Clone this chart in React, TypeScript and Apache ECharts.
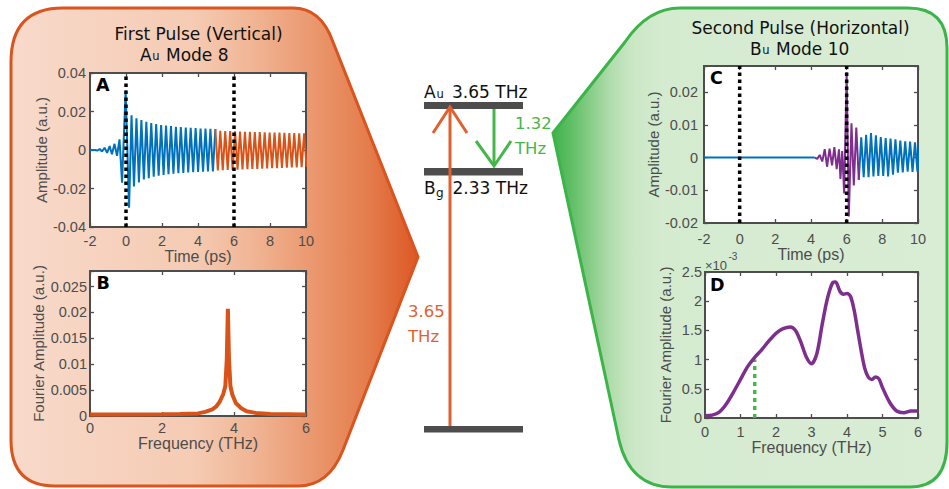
import React, { useEffect, useRef } from "react";
import * as echarts from "echarts";

const WIDTH = 949;
const HEIGHT = 489;

const AXIS_COLOR = "#4d4d4d";
const TITLE_FONT = "'DejaVu Sans', 'Open Sans', sans-serif";
const AXIS_FONT = "'Liberation Sans', Arial, sans-serif";
const BLUE = "#0072bd";
const ORANGE = "#d95319";
const PURPLE = "#7e2f8e";
const GREEN = "#45b649";
const ARROW_ORANGE = "#e0612f";
const LEVEL_GREY = "#4d4d4d";

// A_u phonon frequency; spacing of the ringing extrema in the time traces
const auFreqTHz = 3.65;
const halfPeriod = 1 / (2 * auFreqTHz);

// ---------- Panel A: first pulse, time trace ----------
const aLeadIn: number[][] = [
  [-2, 0], [-1.72, 0], [-1.6, -0.0003], [-1.46, 0.0005], [-1.33, -0.0008], [-1.19, 0.0012],
  [-1.05, -0.0015], [-0.91, 0.002], [-0.78, -0.0022], [-0.64, 0.0032], [-0.5, -0.003],
  [-0.36, 0.0055], [-0.22, -0.017], [-0.02, 0.031],
];
const aRingStart = 0.17;
const aRingBlue = [
  -0.03, 0.018, -0.019, 0.0165, -0.0168, 0.0155, -0.0153, 0.0146, -0.0146, 0.014,
  -0.0139, 0.0135, -0.0134, 0.013, -0.0129, 0.0127, -0.0126, 0.0124, -0.0123, 0.0121,
  -0.0121, 0.0119, -0.0119, 0.0117, -0.0117, 0.0115, -0.0115, 0.0114, -0.0114, 0.0112,
  -0.0113, 0.0111, -0.0112, 0.011, -0.0111, 0.0109,
];
const aRingOrange = [
  -0.0106, 0.01, -0.0105, 0.0099, -0.0104, 0.0098, -0.0103, 0.0097, -0.0102, 0.0096,
  -0.0101, 0.0095, -0.01, 0.0094, -0.0099, 0.0093, -0.0098, 0.0093, -0.0097, 0.0092,
  -0.0096, 0.0091, -0.0095, 0.009, -0.0094, 0.009, -0.0093, 0.0089, -0.0092, 0.0088,
  -0.0091, 0.0088, -0.009, 0.0087, -0.0089, 0.0086, -0.0088,
];
const pulseTimes = [0, 6];

// ---------- Panel B: Fourier amplitude of the A_u ringing ----------
const bFreq = [0, 1, 2, 2.5, 3, 3.2, 3.4, 3.5, 3.6, 3.7, 3.76, 3.8, 3.83, 3.86, 3.9, 3.95, 4.05, 4.2, 4.35, 4.6, 5, 6];
const bAmp = [
  0.0003, 0.0003, 0.00035, 0.0004, 0.0005, 0.0008, 0.0013, 0.0018, 0.0027, 0.0042, 0.0058,
  0.011, 0.0207, 0.011, 0.0058, 0.0042, 0.0025, 0.0015, 0.0009, 0.0006, 0.0004, 0.0003,
];

// ---------- Panel C: second pulse, time trace ----------
const cFlat: number[][] = [[-2, 0], [4.21, 0]];
const cPulse: number[][] = [
  [4.21, 0], [4.35, -0.0004], [4.49, 0.0008], [4.63, -0.0012], [4.77, 0.0026], [4.9, -0.0028],
  [5.04, 0.0027], [5.18, -0.0024], [5.31, 0.0032], [5.44, -0.0035], [5.57, 0.0025],
  [5.65, -0.0065], [5.75, 0.002], [5.86, -0.011], [6.0, 0.026], [6.12, -0.018],
  [6.27, 0.0105], [6.4, -0.0085], [6.54, 0.0092], [6.68, -0.0068],
];
const cRingBlue = [
  0.0062, -0.006, 0.007, -0.006, 0.0075, -0.0058, 0.0068, -0.0056, 0.0063, -0.0056,
  0.006, -0.0058, 0.0058, -0.0052, 0.0056, -0.0046, 0.0052, -0.0045, 0.005, -0.0043,
  0.0049, -0.0044, 0.0047, -0.0043, 0.0046,
];

// ---------- Panel D: Fourier amplitude of the second-pulse response (x1e-3) ----------
const dFreq = [
  0, 0.2, 0.4, 0.6, 0.8, 1.0, 1.2, 1.4, 1.6, 1.8, 2.0, 2.2, 2.4, 2.55, 2.7, 2.85, 3.0, 3.15,
  3.3, 3.45, 3.6, 3.68, 3.8, 3.9, 4.0, 4.1, 4.2, 4.3, 4.4, 4.5, 4.6, 4.7, 4.8, 4.9, 5.0,
  5.2, 5.4, 5.6, 5.8, 6.0,
];
const dAmp = [
  0.04, 0.05, 0.1, 0.24, 0.44, 0.66, 0.88, 1.04, 1.17, 1.32, 1.45, 1.53, 1.56, 1.5, 1.3,
  1.05, 0.93, 1.1, 1.6, 2.05, 2.32, 2.33, 2.17, 2.12, 2.13, 2.08, 1.85, 1.5, 1.15, 0.85,
  0.7, 0.66, 0.7, 0.67, 0.52, 0.27, 0.12, 0.09, 0.12, 0.12,
];
const dMarker = { freq: 1.4, amp: 1.0 };

// ---------- Titles and energy level diagram ----------
const leftTitle = { line1: "First Pulse (Vertical)", sym: "A", sub: "u", rest: "Mode 8" };
const rightTitle = { line1: "Second Pulse (Horizontal)", sym: "B", sub: "u", rest: "Mode 10" };
const levelUpper = { sym: "A", sub: "u", label: "3.65 THz" };
const levelMiddle = { sym: "B", sub: "g", label: "2.33 THz" };
const pumpLabel = ["3.65", "THz"];
const downLabel = ["1.32", "THz"];

const ringPoints = (t0: number, vals: number[], offset: number) =>
  vals.map((v, i) => [t0 + (i + offset) * halfPeriod, v]);

const tickText = (step: number) => (v: number) => {
  const k = v / step;
  if (Math.abs(k - Math.round(k)) > 1e-6) return "";
  return String(+v.toFixed(4));
};

type AxisSpec = {
  grid: number;
  x: [number, number, number];
  y: [number, number, number];
  xName: string;
  yName: string;
  xGap: number;
  yGap: number;
  xMargin: number;
  yMargin: number;
};

function buildAxes(s: AxisSpec) {
  const tick = { inside: true, length: 4, lineStyle: { color: AXIS_COLOR, width: 1.3 } };
  const label = { color: AXIS_COLOR, fontSize: 14.5, fontFamily: AXIS_FONT };
  const xBottom = {
    type: "value", gridIndex: s.grid, position: "bottom",
    min: s.x[0], max: s.x[1], interval: s.x[2],
    axisLine: { show: false, onZero: false }, axisTick: tick, splitLine: { show: false },
    axisLabel: { ...label, margin: s.xMargin, formatter: tickText(s.x[2]) },
    name: s.xName, nameLocation: "middle", nameGap: s.xGap,
    nameTextStyle: { color: AXIS_COLOR, fontSize: 16, fontFamily: AXIS_FONT },
  };
  const xTop = {
    type: "value", gridIndex: s.grid, position: "top",
    min: s.x[0], max: s.x[1], interval: s.x[2],
    axisLine: { show: false, onZero: false }, axisTick: tick, splitLine: { show: false },
    axisLabel: { show: false },
  };
  const yLeft = {
    type: "value", gridIndex: s.grid, position: "left",
    min: s.y[0], max: s.y[1], interval: s.y[2],
    axisLine: { show: false, onZero: false }, axisTick: tick, splitLine: { show: false },
    axisLabel: { ...label, margin: s.yMargin, formatter: tickText(s.y[2]) },
    name: s.yName, nameLocation: "middle", nameGap: s.yGap, nameRotate: 90,
    nameTextStyle: { color: AXIS_COLOR, fontSize: 15, fontFamily: AXIS_FONT },
  };
  const yRight = {
    type: "value", gridIndex: s.grid, position: "right",
    min: s.y[0], max: s.y[1], interval: s.y[2],
    axisLine: { show: false, onZero: false }, axisTick: tick, splitLine: { show: false },
    axisLabel: { show: false },
  };
  return { x: [xBottom, xTop], y: [yLeft, yRight] };
}

const leftPanelPath =
  "M 11 62 Q 11 8 63 8 L 293 8 Q 321 8 333 42 L 418 257 L 343 450 Q 329 486 298 486 L 55 486 Q 11 486 11 440 Z";
const rightPanelPath =
  "M 680 8 L 908 8 Q 947 8 947 48 L 947 442 Q 947 487 910 487 L 672 487 Q 630 487 619 440 L 553 133 L 625 42 Q 648 8 680 8 Z";

// grid g uses xAxis 2g (bottom) and yAxis 2g (left)
function line(g: number, series: number[][], color: string, width: number, extra: any = {}) {
  return {
    type: "line", xAxisIndex: 2 * g, yAxisIndex: 2 * g, data: series, showSymbol: false, symbol: "none",
    silent: true, animation: false, lineStyle: { color, width, ...(extra.lineStyle || {}) },
    smooth: extra.smooth ?? false, clip: true, z: extra.z ?? 2,
  };
}

function text(x: number, y: number, str: string, size: number, color: string, opts: any = {}) {
  return {
    type: "text", x, y, z: 20,
    style: {
      text: str, fontSize: size, lineHeight: opts.lineHeight ?? size, fontFamily: opts.font ?? TITLE_FONT,
      fontWeight: opts.weight ?? "normal", fill: color, align: opts.align ?? "left", verticalAlign: "middle",
    },
  };
}

// two-line panel title; the second line carries a small "u" after the symmetry letter
function title(cx: number, y1: number, y2: number, x2: number, t: typeof leftTitle) {
  const size = 17;
  const sub = 11.5;
  return [
    text(cx, y1, t.line1, size, "#111", { align: "center" }),
    text(x2, y2, t.sym, size, "#111"),
    text(x2 + 12.3, y2 + 0.346 * (size - sub), t.sub, sub, "#111"),
    text(x2 + 26, y2, t.rest, size, "#111"),
  ];
}

export default function App() {
  const ref = useRef<HTMLDivElement>(null);

  useEffect(() => {
    if (!ref.current) return;
    echarts.graphic.registerShape("leftPanel", echarts.graphic.extendPath(leftPanelPath, {}));
    echarts.graphic.registerShape("rightPanel", echarts.graphic.extendPath(rightPanelPath, {}));
    const chart = echarts.init(ref.current, null, { renderer: "svg", width: WIDTH, height: HEIGHT });

    const axA = buildAxes({ grid: 0, x: [-2, 10, 2], y: [-0.04, 0.04, 0.02], xName: "Time (ps)", yName: "Amplitude (a.u.)", xGap: 20, yGap: 35, xMargin: 6, yMargin: 4 });
    const axB = buildAxes({ grid: 1, x: [0, 6, 2], y: [0, 0.028, 0.005], xName: "Frequency (THz)", yName: "Fourier Amplitude (a.u.)", xGap: 19, yGap: 44, xMargin: 4, yMargin: 3 });
    const axC = buildAxes({ grid: 2, x: [-2, 10, 2], y: [-0.02, 0.028, 0.01], xName: "Time (ps)", yName: "Amplitude (a.u.)", xGap: 22, yGap: 39, xMargin: 8, yMargin: 6 });
    const axD = buildAxes({ grid: 3, x: [0, 6, 1], y: [0, 2.5, 0.5], xName: "Frequency (THz)", yName: "Fourier Amplitude (a.u.)", xGap: 18, yGap: 32, xMargin: 6, yMargin: 3 });

    const aBlue = [...aLeadIn, ...ringPoints(aRingStart, aRingBlue, 0)];
    const aOrange = [aBlue[aBlue.length - 1], ...ringPoints(aRingStart, aRingOrange, aRingBlue.length)];
    const cStart = cPulse[cPulse.length - 1];
    const cBlue = [cStart, ...ringPoints(cStart[0], cRingBlue, 1)];
    const bData = bFreq.map((f, i) => [f, bAmp[i]]);
    const dData = dFreq.map((f, i) => [f, dAmp[i]]);

    const dotted = { lineStyle: { type: [3.5, 3.5] }, z: 5 };
    const gridBase = { show: true, backgroundColor: "#ffffff", borderColor: AXIS_COLOR, borderWidth: 2 };

    const series: any[] = [
      line(0, aBlue, BLUE, 2),
      line(0, aOrange, ORANGE, 2),
      ...pulseTimes.map((t) => line(0, [[t, -0.04], [t, 0.04]], "#000", 3.5, dotted)),
      line(1, bData, ORANGE, 4),
      line(2, cFlat, BLUE, 2),
      line(2, cBlue, BLUE, 2),
      line(2, cPulse, PURPLE, 2),
      ...pulseTimes.map((t) => line(2, [[t, -0.02], [t, 0.028]], "#000", 3.5, dotted)),
      line(3, dData, PURPLE, 3.5, { smooth: 0.3 }),
      line(3, [[dMarker.freq, 0], [dMarker.freq, dMarker.amp]], GREEN, 3.5, { lineStyle: { type: [4, 4] }, z: 1 }),
    ];

    const leftFill = {
      type: "linear", x: 0, y: 0, x2: 1, y2: 0,
      colorStops: [
        { offset: 0, color: "#f8dacb" }, { offset: 0.45, color: "#f5cbb3" },
        { offset: 0.6, color: "#f0b493" }, { offset: 0.72, color: "#eb9c74" },
        { offset: 0.88, color: "#e47c4b" }, { offset: 1, color: "#dc5825" },
      ],
    };
    const rightFill = {
      type: "linear", x: 0, y: 0, x2: 1, y2: 0,
      colorStops: [
        { offset: 0, color: "#3fb34b" }, { offset: 0.045, color: "#5fbe65" },
        { offset: 0.095, color: "#88cd88" }, { offset: 0.145, color: "#b0dcac" },
        { offset: 0.2, color: "#cae7c5" }, { offset: 0.28, color: "#d5ebd0" },
        { offset: 1, color: "#d9edd5" },
      ],
    };

    const graphic: any[] = [
      { type: "leftPanel", x: 0, y: 0, scaleX: 1, scaleY: 1, z: -10, style: { fill: leftFill, stroke: "#d9541e", lineWidth: 3 } },
      { type: "rightPanel", x: 0, y: 0, scaleX: 1, scaleY: 1, z: -10, style: { fill: rightFill, stroke: "#3cb44a", lineWidth: 3 } },

      // panel titles
      ...title(198.5, 34, 54.5, 140, leftTitle),
      ...title(800.5, 28, 48.5, 750, rightTitle),

      // panel letters
      text(96, 84.5, "A", 17.5, "#000", { weight: "bold" }),
      text(96.5, 283, "B", 17.5, "#000", { weight: "bold" }),
      text(710, 78.3, "C", 17.5, "#000", { weight: "bold" }),
      text(710, 285, "D", 17.5, "#000", { weight: "bold" }),

      // exponent of panel D
      text(705, 265, "\u00d710", 13, AXIS_COLOR, { font: AXIS_FONT }),
      text(728.5, 256, "-3", 10, AXIS_COLOR, { font: AXIS_FONT }),

      // energy levels
      { type: "rect", shape: { x: 424, y: 102, width: 99, height: 7 }, style: { fill: LEVEL_GREY } },
      { type: "rect", shape: { x: 424, y: 168, width: 99, height: 7.5 }, style: { fill: LEVEL_GREY } },
      { type: "rect", shape: { x: 424, y: 426, width: 99, height: 6.5 }, style: { fill: LEVEL_GREY } },
      text(424, 92, levelUpper.sym, 17, "#111"),
      text(436.5, 93.8, levelUpper.sub, 11.5, "#111"),
      text(452, 92, levelUpper.label, 17, "#111"),
      text(424, 188, levelMiddle.sym, 17, "#111"),
      text(436, 193, levelMiddle.sub, 12, "#111"),
      text(452.5, 188, levelMiddle.label, 17, "#111"),

      // pump arrow (orange, upward)
      { type: "line", shape: { x1: 450, y1: 426, x2: 450, y2: 107 }, style: { stroke: ARROW_ORANGE, lineWidth: 3 } },
      { type: "polyline", shape: { points: [[433, 133], [450, 107], [467, 133]] }, style: { stroke: ARROW_ORANGE, lineWidth: 3, fill: "none" } },
      text(408, 311, pumpLabel[0], 16.5, ARROW_ORANGE),
      text(408, 336, pumpLabel[1], 16.5, ARROW_ORANGE),

      // down-conversion arrow (green)
      { type: "line", shape: { x1: 494, y1: 109, x2: 494, y2: 166 }, style: { stroke: GREEN, lineWidth: 3 } },
      { type: "polyline", shape: { points: [[476, 141], [494, 166], [511, 141]] }, style: { stroke: GREEN, lineWidth: 3, fill: "none" } },
      text(515, 123, downLabel[0], 16.5, GREEN),
      text(515, 148.5, downLabel[1], 16.5, GREEN),
    ];

    chart.setOption({
      animation: false,
      backgroundColor: "#ffffff",
      grid: [
        { ...gridBase, left: 90, top: 73, width: 216, height: 154 },
        { ...gridBase, left: 90, top: 271, width: 216, height: 145 },
        { ...gridBase, left: 704, top: 66, width: 214, height: 157 },
        { ...gridBase, left: 705, top: 272, width: 213, height: 146 },
      ],
      xAxis: [...axA.x, ...axB.x, ...axC.x, ...axD.x],
      yAxis: [...axA.y, ...axB.y, ...axC.y, ...axD.y],
      series,
      graphic,
    });

    return () => chart.dispose();
  }, []);

  return <div ref={ref} style={{ position: "absolute", left: 0, top: 0, width: WIDTH, height: HEIGHT }} />;
}
